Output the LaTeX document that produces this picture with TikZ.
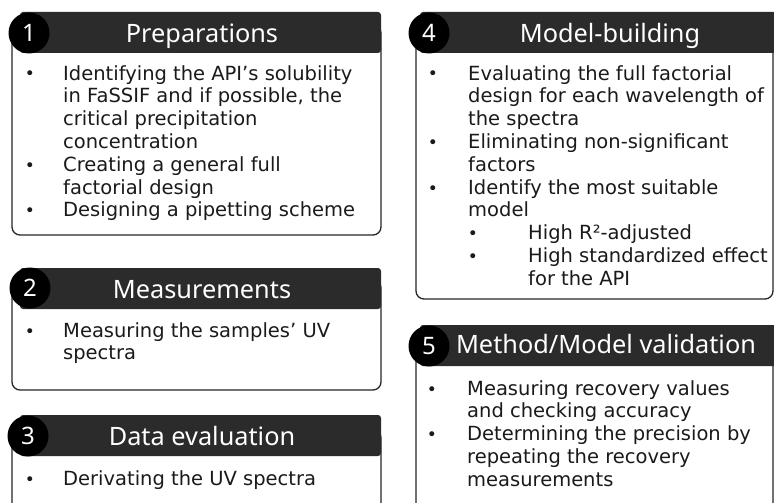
\documentclass[tikz,border=0pt]{standalone}
\usepackage{fontspec}
\setmainfont{DejaVu Sans}
\newfontfamily\headfont{Noto Sans}
\usepackage{xcolor}
\usepackage{tikz}

\definecolor{barcol}{HTML}{2B2B2B}
\definecolor{inkcol}{HTML}{1A1A1A}

\begin{document}
\begin{tikzpicture}[x=1pt, y=-1pt,
  frame/.style={draw=black!85, line width=1.3pt, fill=white, rounded corners=8pt, anchor=north west, outer sep=0pt, inner sep=0pt},
  bar/.style={fill=barcol, rounded corners=3pt, anchor=north west, outer sep=0pt, inner sep=0pt, minimum height=41pt},
  numdot/.style={circle, fill=black, minimum size=41pt, inner sep=0pt, text=white, font=\headfont\fontsize{24}{26}\selectfont},
  title/.style={text=white, anchor=base, inner sep=0pt, font=\headfont\fontsize{25.3}{28}\selectfont},
  item/.style={anchor=north west, inner sep=0pt, align=left, text=inkcol, font=\fontsize{19.5}{22.8}\selectfont},
  dot/.style={anchor=base, inner sep=0pt, text=inkcol, font=\fontsize{17}{18}\selectfont}
]
\useasboundingbox (0,0) rectangle (774,503);
\clip (0,0) rectangle (774,503);
\fill[white] (0,0) rectangle (774,503);

% left column
\node[frame, minimum width=369pt, minimum height=210pt] (prepbox) at (12,25) {};
\node[bar, minimum width=361pt] (prepbar) at (20,12) {};
\node[numdot] (n1) at (29,33) {1};
\node[title] (prept) at (202,43) {Preparations};
\node[item] (p1) at (63,64) {\strut Identifying the API’s solubility\\in FaSSIF and if possible, the\\critical precipitation\\concentration};
\node[item] (p2) at (63,155.2) {\strut Creating a general full\\factorial design};
\node[item] (p3) at (63,200.8) {\strut Designing a pipetting scheme};
\node[dot] (pd1) at (30,80) {•};
\node[dot] (pd2) at (30,171.2) {•};
\node[dot] (pd3) at (30,216.8) {•};

\node[frame, minimum width=369pt, minimum height=110pt] (measbox) at (12,280) {};
\node[bar, minimum width=361pt] (measbar) at (20,268) {};
\node[numdot] (n2) at (30,288) {2};
\node[title] (meast) at (202,298) {Measurements};
\node[item] (m1) at (63,321) {\strut Measuring the samples’ UV\\spectra};
\node[dot] (md1) at (30,337) {•};

\node[frame, minimum width=369pt, minimum height=110pt] (evalbox) at (12,430) {};
\node[bar, minimum width=361pt] (evalbar) at (20,415) {};
\node[numdot] (n3) at (28,436) {3};
\node[title] (evalt) at (202,445) {Data evaluation};
\node[item] (e1) at (63,469) {\strut Derivating the UV spectra};
\node[dot] (ed1) at (30,485) {•};

% right column
\node[frame, minimum width=357pt, minimum height=274pt] (modbox) at (416,25) {};
\node[bar, minimum width=380pt] (modbar) at (420,12) {};
\node[numdot] (n4) at (429,33) {4};
\node[title] (modt) at (610,43) {Model-building};
\node[item] (b1) at (468,64) {\strut Evaluating the full factorial\\design for each wavelength of\\the spectra};
\node[item] (b2) at (468,132.4) {\strut Eliminating non-significant\\factors};
\node[item] (b3) at (468,178) {\strut Identify the most suitable\\model};
\node[item] (b4) at (528,223.6) {\strut High R²-adjusted};
\node[item] (b5) at (528,246.4) {\strut High standardized effect\\for the API};
\node[dot] (bd1) at (433,80) {•};
\node[dot] (bd2) at (433,148.4) {•};
\node[dot] (bd3) at (433,194) {•};
\node[dot] (bd4) at (473,239.6) {•};
\node[dot] (bd5) at (473,262.4) {•};

\node[frame, minimum width=357pt, minimum height=200pt] (valbox) at (416,340) {};
\node[bar, minimum width=380pt] (valbar) at (420,325) {};
\node[numdot] (n5) at (429,346) {5};
\node[title] (valt) at (606,353) {Method/Model validation};
\node[item] (v1) at (467,379) {\strut Measuring recovery values\\and checking accuracy};
\node[item] (v2) at (467,424.6) {\strut Determining the precision by\\repeating the recovery\\measurements};
\node[dot] (vd1) at (432,395) {•};
\node[dot] (vd2) at (432,440.6) {•};
\end{tikzpicture}
\end{document}
